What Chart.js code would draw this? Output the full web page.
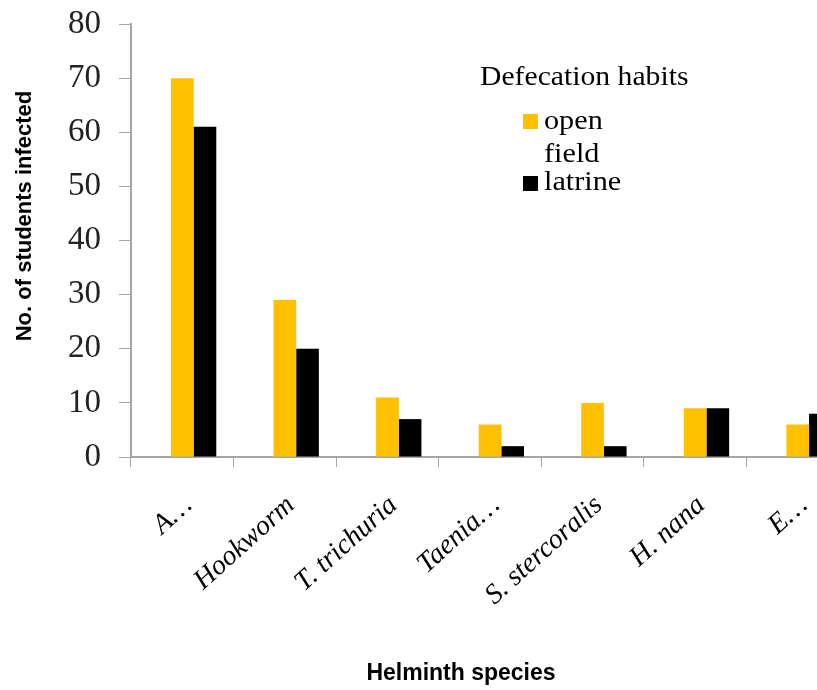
<!DOCTYPE html>
<html>
<head>
<meta charset="utf-8">
<script src="https://cdn.jsdelivr.net/npm/chart.js@4/dist/chart.umd.min.js"></script>
<style>
  html, body { margin: 0; padding: 0; overflow: hidden; background: #fff; }
  #wrap { width: 860px; height: 690px; }
</style>
</head>
<body>
<div id="wrap"><canvas id="c" width="860" height="690"></canvas></div>
<script>
const categories = ["A\u2026", "Hookworm", "T. trichuria", "Taenia\u2026", "S. stercoralis", "H. nana", "E\u2026"];
const openField = [70, 29, 11, 6, 10, 9, 6];
const latrine = [61, 20, 7, 2, 2, 9, 8];
const spacer = [null, null, null, null, null, null, null];
const yTicks = [0, 10, 20, 30, 40, 50, 60, 70, 80];
const legendTitle = "Defecation habits";
const seriesNames = [["open", "field"], ["latrine"]];
const xTitle = "Helminth species";
const yTitle = "No. of students infected";

const serif = '"Liberation Serif", "Times New Roman", serif';
const sans = '"Liberation Sans", Arial, sans-serif';

const overlay = {
  id: 'overlay',
  afterDraw(chart) {
    const ctx = chart.ctx;
    ctx.save();
    // legend
    ctx.fillStyle = '#000';
    ctx.textBaseline = 'middle';
    ctx.textAlign = 'left';
    ctx.font = '28px ' + serif;
    ctx.save();
    ctx.translate(480, 78);
    ctx.scale(1.06, 1);
    ctx.fillText(legendTitle, 0, 0);
    ctx.restore();
    const items = chart.data.datasets.filter(d => d.showInLegend);
    const rows = [[114, [122, 155]], [176, [183]]];
    items.forEach((ds, i) => {
      const [sqY, lines] = rows[i];
      ctx.fillStyle = ds.backgroundColor;
      ctx.fillRect(523, sqY, 15, 15);
      ctx.fillStyle = '#000';
      seriesNames[i].forEach((t, j) => {
        ctx.save();
        ctx.translate(544, lines[j]);
        ctx.scale(1.08, 1);
        ctx.fillText(t, 0, 0);
        ctx.restore();
      });
    });
    // axis titles
    ctx.font = 'bold 23px ' + sans;
    ctx.textAlign = 'center';
    ctx.fillText(xTitle, 461, 674);
    ctx.translate(25, 216);
    ctx.rotate(-Math.PI / 2);
    ctx.font = 'bold 22px ' + sans;
    ctx.fillText(yTitle, 0, 0);
    ctx.restore();
  }
};

new Chart(document.getElementById('c'), {
  type: 'bar',
  data: {
    labels: categories,
    datasets: [
      { label: '', data: spacer, backgroundColor: '#ffffff', showInLegend: false },
      { label: 'open field', data: openField, backgroundColor: '#FFC000', showInLegend: true },
      { label: 'latrine', data: latrine, backgroundColor: '#000000', showInLegend: true }
    ]
  },
  options: {
    responsive: false,
    animation: false,
    devicePixelRatio: 1,
    categoryPercentage: 0.663,
    barPercentage: 1.0,
    layout: { padding: { top: 24, right: 11, bottom: 0, left: 0 } },
    plugins: {
      legend: { display: false },
      tooltip: { enabled: false },
      title: { display: false }
    },
    scales: {
      x: {
        grid: { display: true, drawOnChartArea: false, drawTicks: true, tickLength: 10, color: '#a6a6a6', offset: true },
        border: { color: '#a6a6a6', width: 2 },
        ticks: {
          autoSkip: false,
          maxRotation: 42,
          minRotation: 42,
          padding: 22,
          labelOffset: 6,
          color: '#000',
          font: { family: serif, size: 28, style: 'italic' }
        },
        afterFit(scale) { scale.height = 233; scale.paddingLeft = 0; scale.paddingRight = 0; }
      },
      y: {
        min: 0,
        max: 80,
        afterBuildTicks(scale) { scale.ticks = yTicks.map(v => ({ value: v })); },
        grid: { display: true, drawOnChartArea: false, drawTicks: true, tickLength: 12, color: '#a6a6a6' },
        border: { color: '#a6a6a6', width: 2 },
        ticks: {
          padding: 18,
          color: '#222',
          font: { family: serif, size: 33 }
        },
        afterFit(scale) { scale.width = 131; scale.paddingTop = 0; scale.paddingBottom = 0; }
      }
    }
  },
  plugins: [overlay]
});
</script>
</body>
</html>
